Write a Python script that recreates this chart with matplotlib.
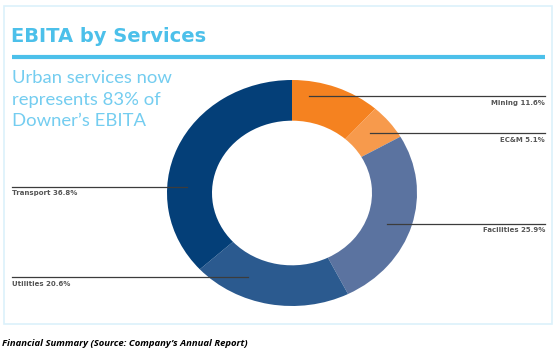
#!/usr/bin/env python3
"""EBITA by Services donut chart (Downer annual report summary)."""
import matplotlib
matplotlib.use("Agg")
import matplotlib.pyplot as plt
from matplotlib.patches import Rectangle

services = ["Mining", "EC&M", "Facilities", "Utilities", "Transport"]
shares = [11.6, 5.1, 25.9, 20.6, 36.8]
colors = ["#f58220", "#f79a4c", "#5b73a0", "#2b5a8f", "#043f78"]

# label placement in pixel space: (line x0, line x1, line y, text x, ha)
leaders = {
    "Mining": (309, 545, 96, 545, "right"),
    "EC&M": (370, 545, 133, 545, "right"),
    "Facilities": (387, 545, 224, 545, "right"),
    "Utilities": (12, 248, 277, 12, "left"),
    "Transport": (12, 187, 187, 12, "left"),
}

W, H = 560, 360
fig = plt.figure(figsize=(W / 100, H / 100), dpi=100)

# overlay axes in pixel coordinates for the decorations
bg = fig.add_axes([0, 0, 1, 1])
bg.set_xlim(0, W)
bg.set_ylim(H, 0)
bg.axis("off")

bg.add_patch(Rectangle((4, 6), 548, 318, fill=False, edgecolor="#dcf1fb", linewidth=1.2))
bg.text(11, 36, "EBITA by Services", fontsize=14, fontweight="bold", color="#4cc0ea",
        family="DejaVu Sans", va="center", ha="left")
bg.plot([12, 545], [57, 57], color="#4cc0ea", linewidth=3, solid_capstyle="butt")
for i, line in enumerate(["Urban services now", "represents 83% of", "Downer\u2019s EBITA"]):
    bg.text(12, 78 + i * 21.5, line, fontsize=13.3, color="#74cdf0", family="Lato",
            va="center", ha="left")

bg.text(2, 344, "Financial Summary (Source: Company\u2019s Annual Report)", fontsize=6.8,
        fontweight="bold", fontstyle="italic", color="black", family="Open Sans",
        va="center", ha="left")

# donut axes, slightly wider than tall as in the source
pie_ax = fig.add_axes([167 / W, 1 - 306 / H, 250 / W, 226 / H])
pie_ax.pie(shares, colors=colors, startangle=90, counterclock=False,
           wedgeprops=dict(width=0.36, edgecolor="none"))
pie_ax.set_aspect("auto")
pie_ax.set_xlim(-1, 1)
pie_ax.set_ylim(-1, 1)

bg.set_zorder(2)
bg.patch.set_alpha(0)
for name, val in zip(services, shares):
    x0, x1, y, tx, ha = leaders[name]
    bg.plot([x0, x1], [y, y], color="#3c3c3c", linewidth=0.9)
    bg.text(tx, y + 6.5, f"{name} {val}%", fontsize=5, fontweight="bold",
            color="#555555", family="DejaVu Sans", va="center", ha=ha)

fig.savefig("out.png", dpi=100)
